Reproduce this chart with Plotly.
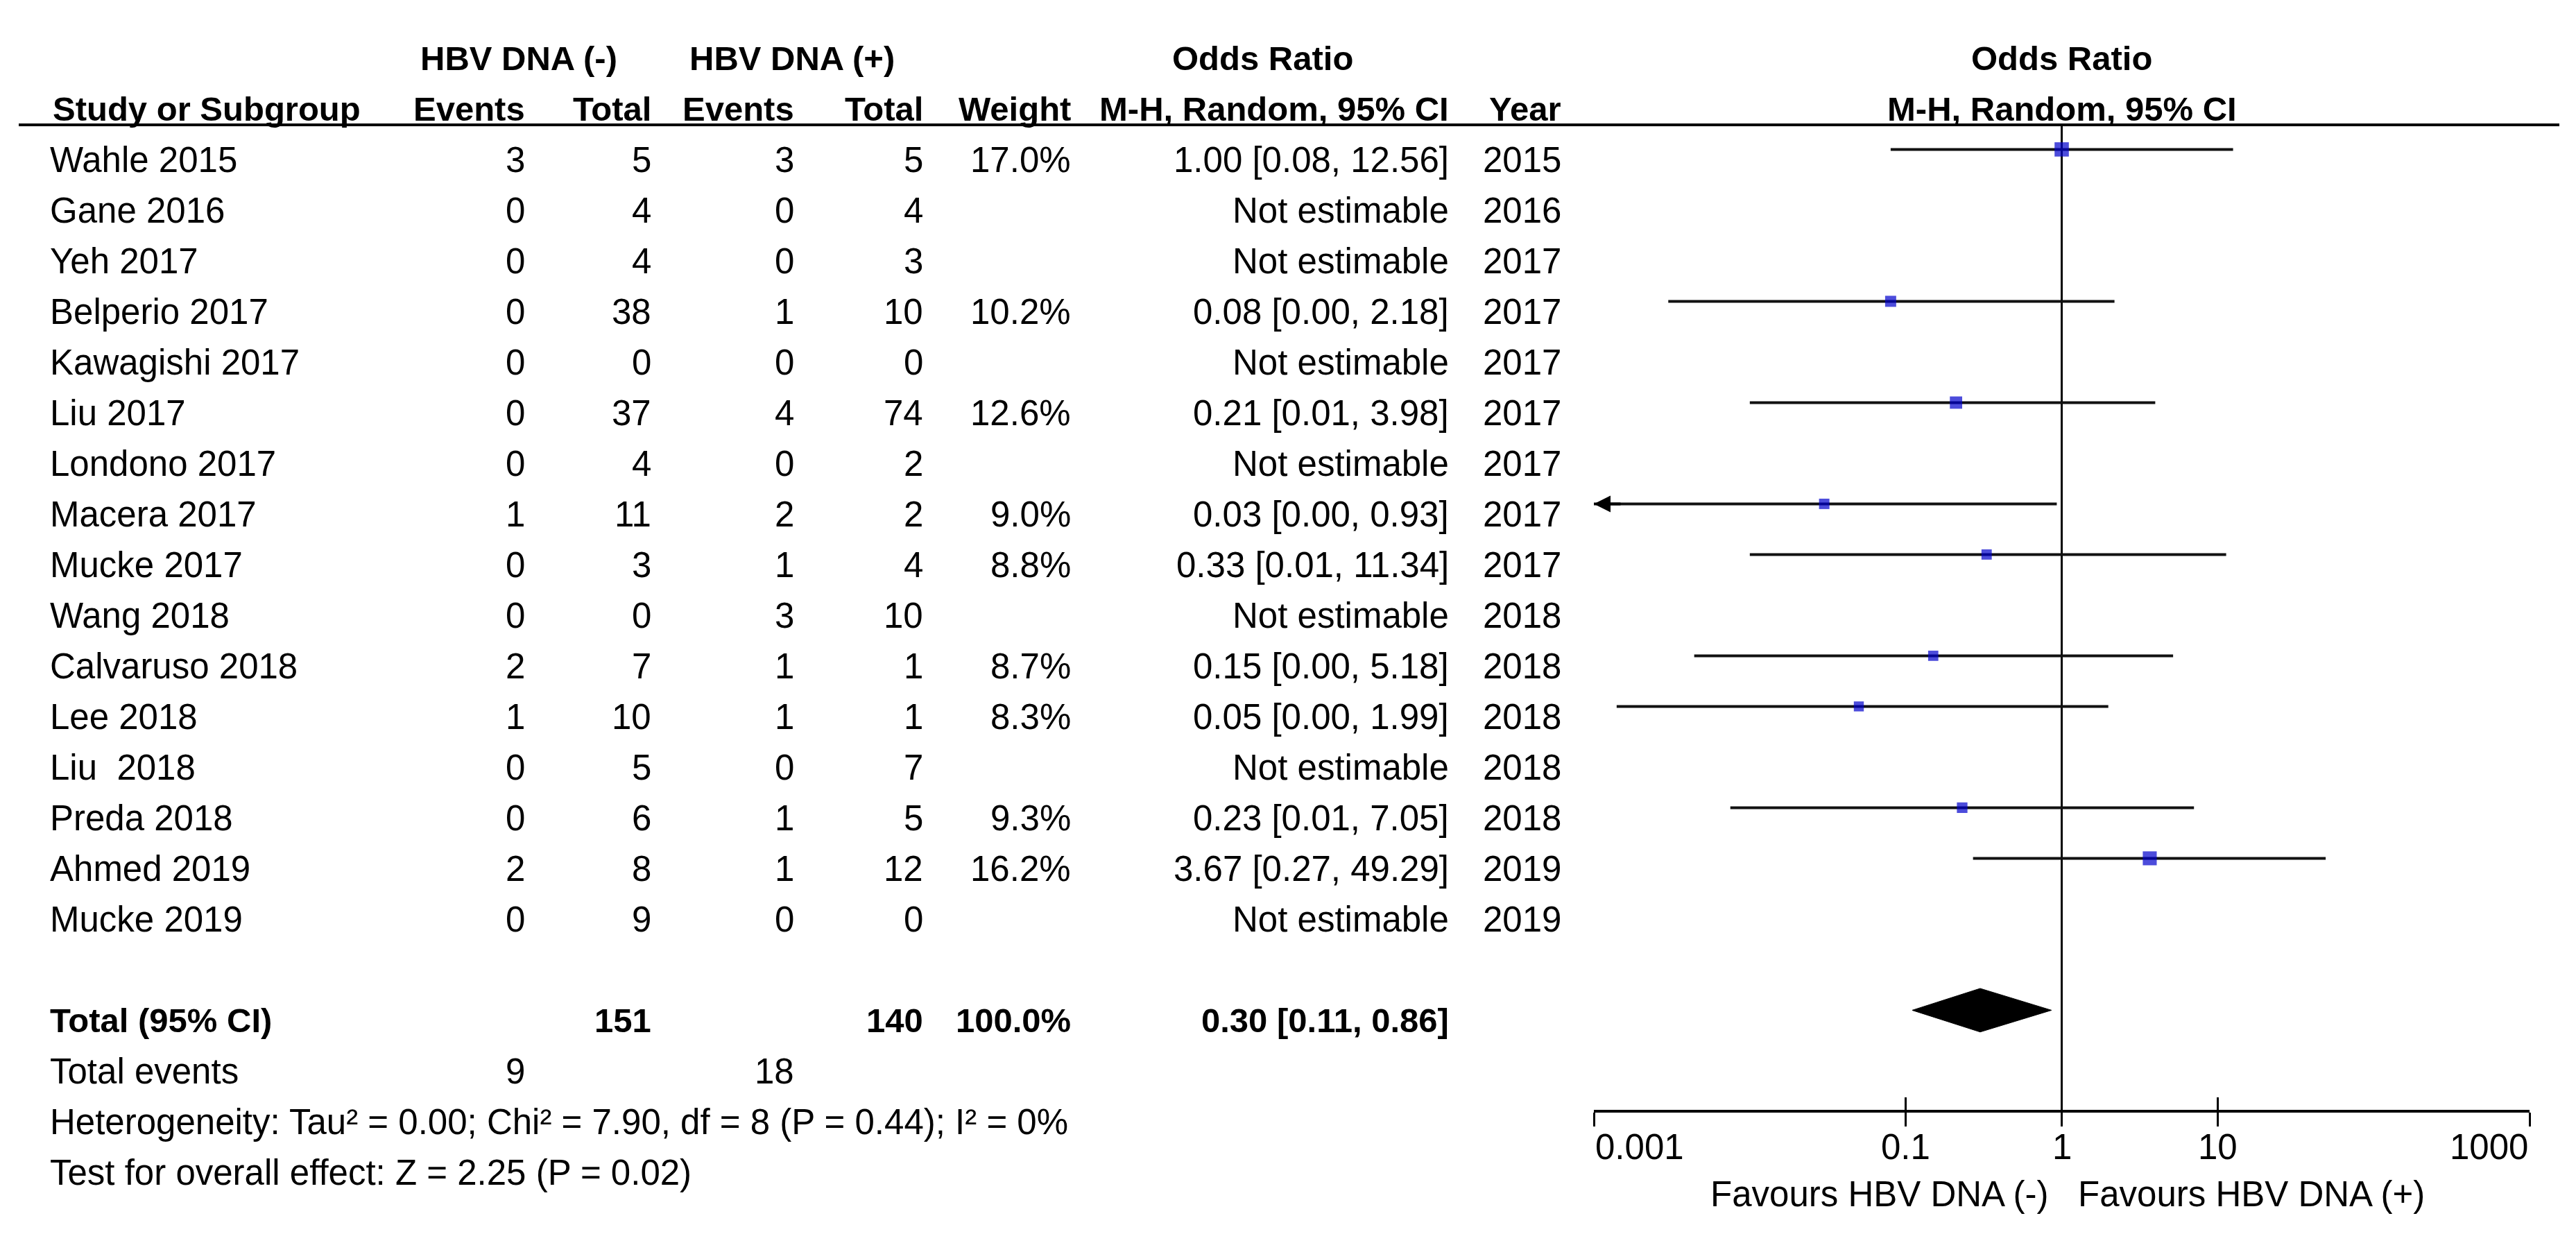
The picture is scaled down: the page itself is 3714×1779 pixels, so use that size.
import numpy as np
import plotly.graph_objects as go

# ---- data ----
studies = ["Wahle 2015", "Gane 2016", "Yeh 2017", "Belperio 2017", "Kawagishi 2017",
           "Liu 2017", "Londono 2017", "Macera 2017", "Mucke 2017", "Wang 2018",
           "Calvaruso 2018", "Lee 2018", "Liu  2018", "Preda 2018", "Ahmed 2019", "Mucke 2019"]
years = [2015, 2016, 2017, 2017, 2017, 2017, 2017, 2017, 2017, 2018,
         2018, 2018, 2018, 2018, 2019, 2019]
events_neg = [3, 0, 0, 0, 0, 0, 0, 1, 0, 0, 2, 1, 0, 0, 2, 0]
total_neg = [5, 4, 4, 38, 0, 37, 4, 11, 3, 0, 7, 10, 5, 6, 8, 9]
events_pos = [3, 0, 0, 1, 0, 4, 0, 2, 1, 3, 1, 1, 0, 1, 1, 0]
total_pos = [5, 4, 3, 10, 0, 74, 2, 2, 4, 10, 1, 1, 7, 5, 12, 0]
weights = [17.0, None, None, 10.2, None, 12.6, None, 9.0, 8.8, None, 8.7, 8.3, None, 9.3, 16.2, None]
or_est = [1.00, None, None, 0.08, None, 0.21, None, 0.03, 0.33, None, 0.15, 0.05, None, 0.23, 3.67, None]
# lower limits printed as 0.00 are estimated from where the line starts
ci_low = [0.08, None, None, 0.003, None, 0.01, None, 0.0006, 0.01, None, 0.0044, 0.0014, None, 0.0075, 0.27, None]
ci_high = [12.56, None, None, 2.18, None, 3.98, None, 0.93, 11.34, None, 5.18, 1.99, None, 7.05, 49.29, None]

total_weight = 100.0
pooled = (0.30, 0.11, 0.86)
heterogeneity = "Heterogeneity: Tau\u00b2 = 0.00; Chi\u00b2 = 7.90, df = 8 (P = 0.44); I\u00b2 = 0%"
overall = "Test for overall effect: Z = 2.25 (P = 0.02)"

tick_vals = [0.001, 0.1, 1, 10, 1000]
tick_text = ["0.001", "0.1", "1", "10", "1000"]

# ---- layout constants (pixels of the 3714 x 1779 page) ----
W, H = 3714, 1779
ROW0_PX, ROW_PX = 230, 73          # first study row centre, row pitch
AXIS_PX = 1602                     # y of the odds ratio axis
X0_PX, X1_PX = 2298, 3647          # plot area left / right
SHIFT = 0.2                        # marks sit slightly above the text line
FONT = "Liberation Sans, Arial, sans-serif"
FS, FSB = 51, 49


def row_of(px):
    return (px - ROW0_PX) / ROW_PX


annotations = []


def txt(x_px, row, text, anchor="left", bold=False):
    annotations.append(dict(
        xref="paper", yref="y", x=x_px / W, y=row, text=f"<b>{text}</b>" if bold else text,
        xanchor=anchor, yanchor="middle", showarrow=False,
        font=dict(family=FONT, size=FSB if bold else FS, color="black")))


# headers
txt(748, -2, "HBV DNA (-)", "center", True)
txt(1142, -2, "HBV DNA (+)", "center", True)
txt(1820, -2, "Odds Ratio", "center", True)
txt(74, -1, "Study or Subgroup", "left", True)
txt(759, -1, "Events", "right", True)
txt(941, -1, "Total", "right", True)
txt(1147, -1, "Events", "right", True)
txt(1333, -1, "Total", "right", True)
txt(1546, -1, "Weight", "right", True)
txt(2091, -1, "M-H, Random, 95% CI", "right", True)
txt(2253, -1, "Year", "right", True)
for r, t in ((-2, "Odds Ratio"), (-1, "M-H, Random, 95% CI")):
    annotations.append(dict(xref="x", yref="y", x=0, y=r, text=f"<b>{t}</b>", showarrow=False,
                            xanchor="center", yanchor="middle",
                            font=dict(family=FONT, size=FSB, color="black")))

# study rows
for i, name in enumerate(studies):
    txt(70, i, name)
    txt(759, i, str(events_neg[i]), "right")
    txt(941, i, str(total_neg[i]), "right")
    txt(1147, i, str(events_pos[i]), "right")
    txt(1333, i, str(total_pos[i]), "right")
    if weights[i] is not None:
        txt(1546, i, f"{weights[i]:.1f}%", "right")
        txt(2091, i, f"{or_est[i]:.2f} [{ci_low[i]:.2f}, {ci_high[i]:.2f}]", "right")
    else:
        txt(2091, i, "Not estimable", "right")
    txt(2253, i, str(years[i]), "right")

# totals
n = len(studies)
r_tot = n + 1
txt(70, r_tot, "Total (95% CI)", bold=True)
txt(941, r_tot, str(sum(total_neg)), "right", True)
txt(1333, r_tot, str(sum(total_pos)), "right", True)
txt(1546, r_tot, f"{total_weight:.1f}%", "right", True)
txt(2091, r_tot, f"{pooled[0]:.2f} [{pooled[1]:.2f}, {pooled[2]:.2f}]", "right", True)
txt(70, r_tot + 1, "Total events")
txt(759, r_tot + 1, str(sum(events_neg)), "right")
txt(1147, r_tot + 1, str(sum(events_pos)), "right")
txt(70, r_tot + 2, heterogeneity)
txt(70, r_tot + 3, overall)

# axis tick labels and favours labels
for k, (v, t) in enumerate(zip(tick_vals, tick_text)):
    anchor = "left" if k == 0 else ("right" if k == len(tick_vals) - 1 else "center")
    annotations.append(dict(xref="x", yref="y", x=np.log10(v), y=row_of(1653), text=t,
                            showarrow=False, xanchor=anchor, yanchor="middle",
                            font=dict(family=FONT, size=FS, color="black")))
annotations.append(dict(xref="x", yref="y", x=0, y=row_of(1721), text="Favours HBV DNA (-)",
                        showarrow=False, xanchor="right", yanchor="middle", xshift=-18,
                        font=dict(family=FONT, size=FS, color="black")))
annotations.append(dict(xref="x", yref="y", x=0, y=row_of(1721), text="Favours HBV DNA (+)",
                        showarrow=False, xanchor="left", yanchor="middle", xshift=21,
                        font=dict(family=FONT, size=FS, color="black")))

# ---- marks ----
ci_x, ci_y, sq_x, sq_y, sq_s = [], [], [], [], []
for i in range(n):
    if or_est[i] is None:
        continue
    ci_x += [ci_low[i], ci_high[i], None]
    ci_y += [i - SHIFT, i - SHIFT, None]
    sq_x.append(or_est[i])
    sq_y.append(i - SHIFT)
    sq_s.append(5.0 * np.sqrt(weights[i]))
    if ci_low[i] < tick_vals[0]:
        # interval runs off the left edge: arrow head at the axis limit
        annotations.append(dict(xref="x", yref="y", x=np.log10(tick_vals[0]), y=i - SHIFT,
                                ax=40, ay=0, text="", showarrow=True, arrowhead=2,
                                arrowsize=1.2, arrowwidth=4, arrowcolor="black"))

fig = go.Figure()
fig.add_trace(go.Scatter(x=[1, 1], y=[row_of(180), row_of(AXIS_PX)], mode="lines",
                         line=dict(color="black", width=3), hoverinfo="skip"))
fig.add_trace(go.Scatter(x=ci_x, y=ci_y, mode="lines",
                         line=dict(color="#111111", width=4), hoverinfo="skip"))
fig.add_trace(go.Scatter(x=sq_x, y=sq_y, mode="markers",
                         marker=dict(symbol="square", size=sq_s, color="#0000CC", line=dict(width=0)),
                         hoverinfo="skip"))
est, lo, hi = pooled
h = 0.43
fig.add_trace(go.Scatter(x=[lo, est, hi, est, lo], y=[r_tot - SHIFT, r_tot - SHIFT - h, r_tot - SHIFT,
                                                    r_tot - SHIFT + h, r_tot - SHIFT],
                         mode="lines", fill="toself", fillcolor="black",
                         line=dict(color="black", width=1), hoverinfo="skip"))
# invisible trace so the upper tick set has something to hang on
fig.add_trace(go.Scatter(x=[1], y=[0], xaxis="x2", mode="markers",
                         marker=dict(opacity=0), hoverinfo="skip"))

axis_pos = 1 - AXIS_PX / H
common = dict(type="log", range=[np.log10(tick_vals[0]), np.log10(tick_vals[-1])],
              domain=[X0_PX / W, X1_PX / W], anchor="free", position=axis_pos,
              tickvals=tick_vals, showticklabels=False, showgrid=False, zeroline=False,
              tickcolor="black", tickwidth=3, ticklen=20)

fig.update_layout(
    width=W, height=H, autosize=False,
    margin=dict(l=0, r=0, t=0, b=0),
    paper_bgcolor="white", plot_bgcolor="white",
    showlegend=False,
    xaxis=dict(**common, ticks="outside", showline=True, linecolor="black", linewidth=4),
    xaxis2=dict(**common, ticks="inside", overlaying="x", showline=False),
    yaxis=dict(range=[row_of(H), row_of(0)], domain=[0, 1], visible=False),
    annotations=annotations,
    shapes=[dict(type="line", xref="paper", yref="y", x0=27 / W, x1=3690 / W,
                 y0=row_of(180), y1=row_of(180), line=dict(color="black", width=4))],
)

fig.write_html("out.html", config={"displayModeBar": False},
               post_script="document.body.style.margin='0';")
